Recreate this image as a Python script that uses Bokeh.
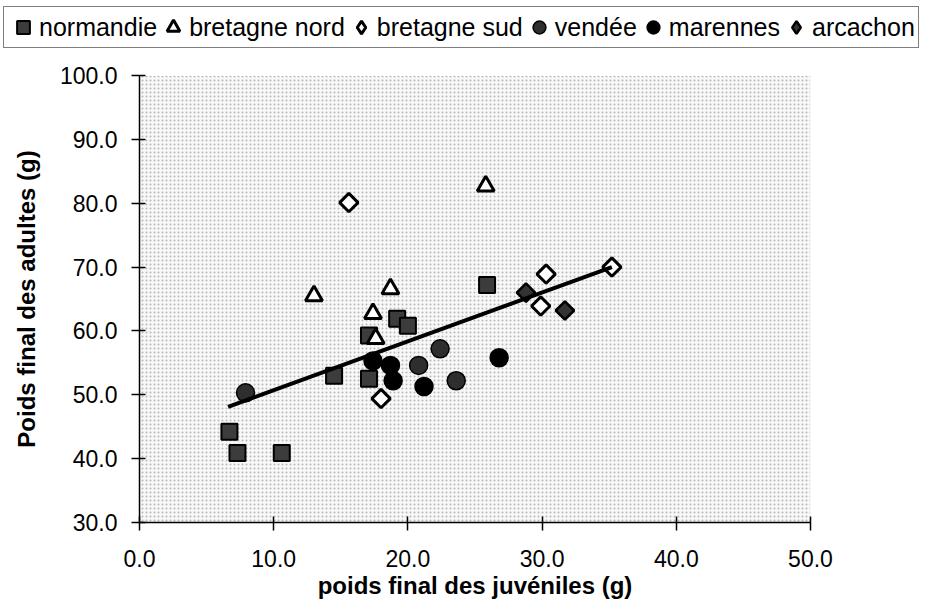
import numpy as np
from bokeh.plotting import figure
from bokeh.layouts import column
from bokeh.models import Legend, LegendItem, BoxAnnotation, FixedTicker, PrintfTickFormatter
from bokeh.embed import file_html
from bokeh.resources import INLINE

# ---- data ----
normandie_x = [6.7, 7.3, 10.6, 14.5, 17.1, 17.1, 19.2, 20.0, 25.9]
normandie_y = [44.2, 40.9, 40.9, 53.0, 52.5, 59.3, 61.9, 60.8, 67.2]
bretagne_nord_x = [13.0, 18.7, 17.4, 17.6, 25.8]
bretagne_nord_y = [65.5, 66.6, 62.7, 58.8, 82.7]
bretagne_sud_x = [15.6, 18.0, 30.3, 29.9, 35.2]
bretagne_sud_y = [80.1, 49.4, 68.9, 63.9, 70.0]
vendee_x = [7.9, 20.8, 22.4, 23.6]
vendee_y = [50.3, 54.6, 57.2, 52.2]
marennes_x = [17.4, 18.7, 18.9, 21.2, 26.8]
marennes_y = [55.3, 54.6, 52.2, 51.3, 55.8]
arcachon_x = [28.8, 31.7]
arcachon_y = [66.0, 63.2]
trend_x = [6.6, 35.2]
trend_y = [48.1, 70.0]
x_ticks = [0, 10, 20, 30, 40, 50]
y_ticks = [30, 40, 50, 60, 70, 80, 90, 100]
series_names = ["normandie", "bretagne nord", "bretagne sud", "vendée", "marennes", "arcachon"]

FONT = "Liberation Sans"

styles = [
    dict(marker="square", size=16, fill_color="#3c3c3c", line_color="black", line_width=2),
    dict(marker="triangle", size=17, fill_color="white", line_color="black", line_width=3),
    dict(marker="square", angle=np.pi / 4, size=13, fill_color="white", line_color="black", line_width=3),
    dict(marker="circle", size=18, fill_color="#2e2e2e", line_color="black", line_width=1.5),
    dict(marker="circle", size=18, fill_color="black", line_color="black", line_width=1.5),
    dict(marker="square", angle=np.pi / 4, size=13, fill_color="#333333", line_color="black", line_width=2.5),
]
# legend swatches (legend glyphs ignore marker angle, so use diamonds there)
legend_styles = [
    dict(marker="square", fill_color="#3c3c3c", line_color="black", line_width=2),
    dict(marker="triangle", fill_color="white", line_color="black", line_width=3),
    dict(marker="diamond", fill_color="white", line_color="black", line_width=3),
    dict(marker="circle", fill_color="#2e2e2e", line_color="black", line_width=1.5),
    dict(marker="circle", fill_color="black", line_color="black", line_width=1.5),
    dict(marker="diamond", fill_color="#333333", line_color="black", line_width=2.5),
]
series = [(normandie_x, normandie_y), (bretagne_nord_x, bretagne_nord_y),
          (bretagne_sud_x, bretagne_sud_y), (vendee_x, vendee_y),
          (marennes_x, marennes_y), (arcachon_x, arcachon_y)]

# ---- main chart ----
p = figure(width=930, height=557, x_range=(0, 50), y_range=(30, 100),
           output_backend="svg", toolbar_location=None,
           min_border_left=139, min_border_right=120,
           min_border_top=25, min_border_bottom=85)
p.frame_align = False
p.outline_line_color = None
p.xgrid.visible = False
p.ygrid.visible = False
p.background_fill_color = "white"
p.border_fill_color = "white"

# dotted background pattern of the plot area
bg = BoxAnnotation(fill_color="#f8f8f8", fill_alpha=1.0, line_alpha=0,
                   hatch_pattern="dot", hatch_scale=4, hatch_weight=1.0,
                   hatch_color="#b0b0b0", hatch_alpha=0.9, level="underlay")
p.add_layout(bg)

for (sx, sy), st in zip(series, styles):
    p.scatter(sx, sy, **st)

p.line(trend_x, trend_y, line_color="black", line_width=4)

for ax, ticks in ((p.xaxis[0], x_ticks), (p.yaxis[0], y_ticks)):
    ax.ticker = FixedTicker(ticks=ticks)
    ax.formatter = PrintfTickFormatter(format="%.1f")
    ax.minor_tick_line_color = None
    ax.axis_line_color = "black"
    ax.axis_line_width = 1.5
    ax.major_tick_line_color = "black"
    ax.major_tick_line_width = 1.5
    ax.major_label_text_font = FONT
    ax.major_label_text_font_size = "23px"
    ax.major_label_text_color = "black"
    ax.axis_label_text_font = FONT
    ax.axis_label_text_font_size = "24px"
    ax.axis_label_text_font_style = "bold"
    ax.axis_label_text_color = "black"

p.xaxis.axis_label = "poids final des juvéniles (g)"
p.yaxis.axis_label = "Poids final des adultes (g)"
p.xaxis.major_tick_in = 6
p.xaxis.major_tick_out = 8
p.xaxis.major_label_standoff = 19
p.xaxis.axis_label_standoff = 2
p.yaxis.major_tick_in = 6
p.yaxis.major_tick_out = 8
p.yaxis.major_label_standoff = 14
p.yaxis.axis_label_standoff = 17

# ---- legend strip above the chart ----
lg = figure(width=930, height=50, x_range=(0, 50), y_range=(30, 100),
            output_backend="svg", toolbar_location=None,
            min_border_left=0, min_border_right=0, min_border_top=0, min_border_bottom=0)
lg.frame_align = False
lg.axis.visible = False
lg.xgrid.visible = False
lg.ygrid.visible = False
lg.outline_line_color = None
lg.background_fill_color = "white"
lg.border_fill_color = "white"

leg_renderers = []
for (sx, sy), st in zip(series, legend_styles):
    r = lg.scatter(sx, sy, **st)
    r.visible = False
    leg_renderers.append(r)

legend = Legend(items=[LegendItem(label=n, renderers=[r]) for n, r in zip(series_names, leg_renderers)],
                orientation="horizontal", location=(3, 2),
                label_text_font=FONT, label_text_font_size="25px", label_text_color="black",
                glyph_width=32, glyph_height=34, label_standoff=0, spacing=0,
                padding=3, margin=0, border_line_color="black", border_line_width=1.5,
                background_fill_color="white", background_fill_alpha=1.0)
lg.add_layout(legend)

layout = column(lg, p, spacing=0)
open("out.html", "w").write(file_html(layout, INLINE))
